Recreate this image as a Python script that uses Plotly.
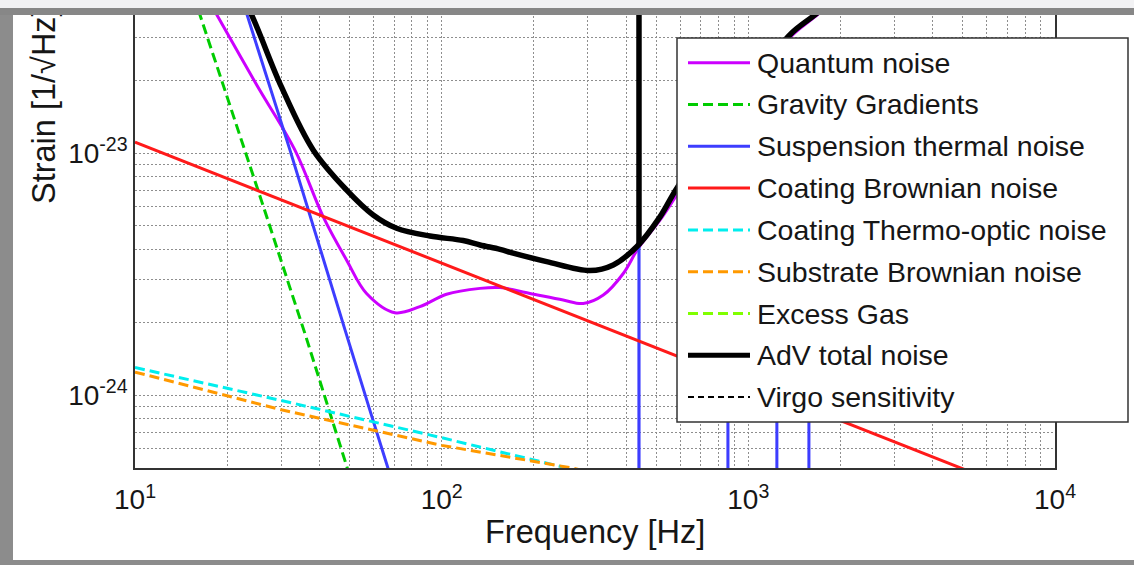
import plotly.graph_objects as go

# ---------------- data ----------------
freq_quantum = [16, 18.5, 25.0, 33.2, 41.1, 49.0, 56.9, 70.4, 84.9, 103.7, 133.4, 155, 194, 249, 289.5,
                336.6, 391, 437.5, 515, 584, 800, 1000, 1367, 1648, 3000, 10000]
h_quantum = [5.1e-23, 3.72e-23, 1.90e-23, 1.03e-23, 5.45e-24, 3.61e-24, 2.63e-24, 2.19e-24, 2.32e-24,
             2.61e-24, 2.76e-24, 2.78e-24, 2.63e-24, 2.47e-24, 2.39e-24, 2.59e-24, 3.18e-24, 4.04e-24,
             5.28e-24, 6.69e-24, 1.2e-23, 1.8e-23, 3.0e-23, 3.65e-23, 6.6e-23, 2.2e-22]

freq_gravity = [15, 16.3, 25.9, 35.8, 49.1, 55]
h_gravity = [5.1e-23, 3.72e-23, 6.3e-24, 1.8e-24, 5.0e-25, 3.2e-25]

freq_susp = [20, 23.2, 32.0, 48.4, 59.7, 66.8, 80, 439.5, 440, 440.5, 857.5, 858, 858.5,
             1238.5, 1239, 1239.5, 1575.5, 1576, 1576.5, 10000]
h_susp = [6.8e-23, 3.72e-23, 1.03e-23, 1.86e-24, 7.88e-25, 5.0e-25, 2.4e-25, 1e-27, 1e-21, 1e-27,
          1e-27, 1e-23, 1e-27, 1e-27, 8e-24, 1e-27, 1e-27, 6e-24, 1e-27, 1e-27]

freq_coat_brown = [10, 100, 1000, 10000]
h_coat_brown = [1.11e-23, 3.51e-24, 1.11e-24, 3.51e-25]

freq_thermo = [10, 30, 100, 200, 256, 400]
h_thermo = [1.30e-24, 9.5e-25, 6.67e-25, 5.4e-25, 5.0e-25, 4.3e-25]

freq_substrate = [10, 30, 100, 200, 266, 400]
h_substrate = [1.245e-24, 8.7e-25, 6.2e-25, 5.3e-25, 5.0e-25, 4.45e-25]

freq_total = [20, 24.0, 30, 38.1, 49.0, 59.8, 71.3, 91.6, 117.5, 133.4, 155, 171, 220, 304.5, 362.7,
              432.5, 515, 584, 800, 1000, 1367, 1648, 3000, 10000]
h_total = [5.9e-23, 3.72e-23, 1.88e-23, 1.03e-23, 7.03e-24, 5.55e-24, 4.89e-24, 4.54e-24, 4.35e-24,
           4.17e-24, 4.0e-24, 3.86e-24, 3.56e-24, 3.27e-24, 3.45e-24, 4.10e-24, 5.45e-24, 7.14e-24,
           1.25e-23, 1.85e-23, 3.08e-23, 3.72e-23, 6.8e-23, 2.3e-22]

freq_total_spike = [440, 440]
h_total_spike = [4.15e-24, 1e-20]

legend_names = ["Quantum noise", "Gravity Gradients", "Suspension thermal noise",
                "Coating Brownian noise", "Coating Thermo-optic noise", "Substrate Brownian noise",
                "Excess Gas", "AdV total noise", "Virgo sensitivity"]
legend_colors = ["#cc00ff", "#00cc00", "#3d3dff", "#ff1a1a", "#00eeee", "#ff9900",
                 "#80ff00", "#000000", "#000000"]
legend_dashes = ["solid", "10px,5px", "solid", "solid", "10px,5px", "10px,5px",
                 "10px,5px", "solid", "6px,4px"]
legend_widths = [3, 3, 3, 3, 3, 3, 3, 5, 2]

x_tick_decades = [10, 100, 1000, 10000]
x_tick_labels = ["10<sup>1</sup>", "10<sup>2</sup>", "10<sup>3</sup>", "10<sup>4</sup>"]
y_tick_decades = [1e-24, 1e-23]
y_tick_labels = ["10<sup>-24</sup>", "10<sup>-23</sup>"]

# ---------------- geometry helpers (pixels -> paper) ----------------
W, H = 1134, 565
L, R, T, B = 135, 1055, 0, 468


def px(x):
    return (x - L) / (R - L)


def py(y):
    return (B - y) / (B - T)


FONT = "Liberation Sans, Arial, Helvetica, sans-serif"
TXT = "#161616"
LW = 3

fig = go.Figure()

fig.add_trace(go.Scatter(x=freq_quantum, y=h_quantum, mode="lines", line_shape="spline",
                         line=dict(color=legend_colors[0], width=LW)))
fig.add_trace(go.Scatter(x=freq_gravity, y=h_gravity, mode="lines",
                         line=dict(color=legend_colors[1], width=LW, dash="10px,5px")))
fig.add_trace(go.Scatter(x=freq_susp, y=h_susp, mode="lines",
                         line=dict(color=legend_colors[2], width=LW, simplify=False)))
fig.add_trace(go.Scatter(x=freq_coat_brown, y=h_coat_brown, mode="lines",
                         line=dict(color=legend_colors[3], width=LW)))
fig.add_trace(go.Scatter(x=freq_thermo, y=h_thermo, mode="lines",
                         line=dict(color=legend_colors[4], width=LW, dash="10px,5px")))
fig.add_trace(go.Scatter(x=freq_substrate, y=h_substrate, mode="lines",
                         line=dict(color=legend_colors[5], width=LW, dash="10px,5px")))
fig.add_trace(go.Scatter(x=freq_total, y=h_total, mode="lines", line_shape="spline",
                         line=dict(color="#000000", width=5.5)))
fig.add_trace(go.Scatter(x=freq_total_spike, y=h_total_spike, mode="lines",
                         line=dict(color="#000000", width=5.5)))

# grid positions (all 1..9 multiples)
x_grid = [k * 10 ** n for n in (1, 2, 3) for k in range(1, 10)] + [10000]
x_text = [x_tick_labels[x_tick_decades.index(v)] if v in x_tick_decades else "" for v in x_grid]
y_grid = [k * 1e-25 for k in range(5, 10)] + [k * 1e-24 for k in range(1, 10)] + [k * 1e-23 for k in range(1, 5)]
y_text = []
for v in y_grid:
    lab = ""
    for d, t in zip(y_tick_decades, y_tick_labels):
        if abs(v / d - 1) < 1e-6:
            lab = t
    y_text.append(lab)

grid_style = dict(showgrid=True, gridcolor="#8e8e8e", gridwidth=1, griddash="2px,2px",
                  showline=True, linecolor="#333333", linewidth=1.5,
                  ticks="", zeroline=False,
                  tickfont=dict(family=FONT, size=28, color=TXT))

fig.update_xaxes(type="log", range=[1, 4], tickmode="array", tickvals=x_grid, ticktext=x_text,
                 mirror=False, ticklabelstandoff=6, **grid_style)
fig.update_yaxes(type="log", range=[-24.301, -22.368], tickmode="array", tickvals=y_grid,
                 ticktext=y_text, mirror=True, **grid_style)

shapes = []
# legend box
shapes.append(dict(type="rect", xref="paper", yref="paper", x0=px(677), x1=px(1128),
                   y0=py(422), y1=py(38), fillcolor="white",
                   line=dict(color="#333333", width=1.5), layer="above"))
annotations = []
for i, name in enumerate(legend_names):
    yy = 62.7 + 41.8 * i
    shapes.append(dict(type="line", xref="paper", yref="paper", x0=px(688), x1=px(750),
                       y0=py(yy), y1=py(yy),
                       line=dict(color=legend_colors[i], width=legend_widths[i],
                                 dash=legend_dashes[i]), layer="above"))
    annotations.append(dict(xref="paper", yref="paper", x=px(755), y=py(yy), xanchor="left",
                            yanchor="middle", text=name, showarrow=False,
                            font=dict(family=FONT, size=28.5, color=TXT)))

# window frame (left and bottom bands)
shapes.append(dict(type="rect", xref="paper", yref="paper", x0=px(0), x1=px(13), y0=py(565),
                   y1=py(8), fillcolor="#8c8c8c", line=dict(width=0), layer="above"))
shapes.append(dict(type="rect", xref="paper", yref="paper", x0=px(0), x1=px(1134), y0=py(565),
                   y1=py(560), fillcolor="#8c8c8c", line=dict(width=0), layer="above"))
shapes.append(dict(type="rect", xref="paper", yref="paper", x0=px(0), x1=px(1134), y0=py(8),
                   y1=py(0), fillcolor="#f2f2f4", line=dict(width=0), layer="above"))

# axis titles
annotations.append(dict(xref="paper", yref="paper", x=px(595), y=py(532), xanchor="center",
                        yanchor="middle", text="Frequency [Hz]", showarrow=False,
                        font=dict(family=FONT, size=32.5, color=TXT)))
annotations.append(dict(xref="paper", yref="paper", x=px(44), y=py(106), xanchor="center",
                        yanchor="middle", text="Strain [1/√Hz]", textangle=-90, showarrow=False,
                        font=dict(family=FONT, size=32.5, color=TXT)))
# top window frame bands (drawn as boxes above the title)
annotations.append(dict(xref="paper", yref="paper", x=px(567), y=py(4), xanchor="center",
                        yanchor="middle", text=" ", width=W + 4, height=8, borderpad=0,
                        borderwidth=0, bgcolor="#f2f2f4", showarrow=False, font=dict(size=2)))
annotations.append(dict(xref="paper", yref="paper", x=px(567), y=py(11.5), xanchor="center",
                        yanchor="middle", text=" ", width=W + 4, height=7, borderpad=0,
                        borderwidth=0, bgcolor="#878787", showarrow=False, font=dict(size=2)))

fig.update_layout(width=W, height=H, margin=dict(l=L, r=W - R, t=T, b=H - B),
                  paper_bgcolor="white", plot_bgcolor="white", showlegend=False,
                  font=dict(family=FONT, color=TXT), shapes=shapes, annotations=annotations)

fig.write_html("out.html")
